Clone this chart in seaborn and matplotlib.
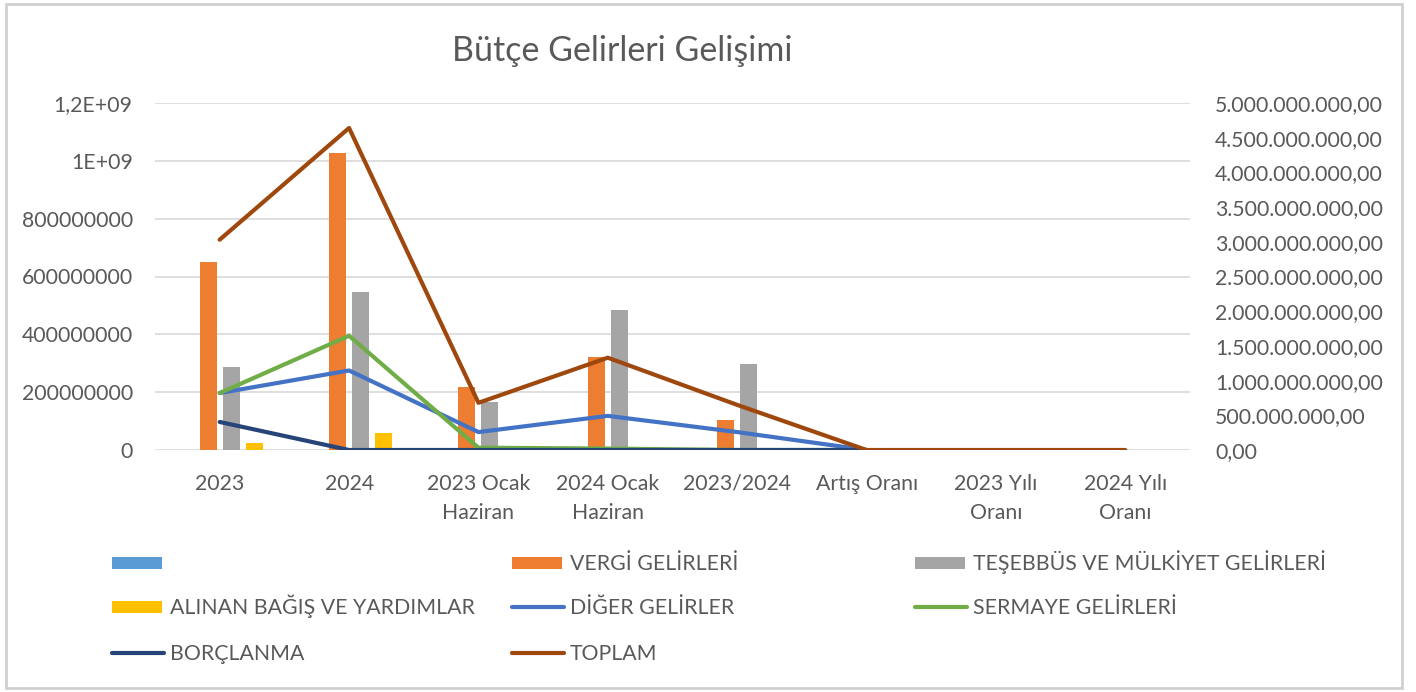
import matplotlib
matplotlib.use("Agg")
import matplotlib.pyplot as plt
import matplotlib.ticker as mticker
from matplotlib.lines import Line2D
from matplotlib.patches import Rectangle
import numpy as np
import pandas as pd
import seaborn as sns

# categories on the x axis
categories = ["2023", "2024", "2023 Ocak\nHaziran", "2024 Ocak\nHaziran",
              "2023/2024", "Artış Oranı", "2023 Yılı\nOranı", "2024 Yılı\nOranı"]

# bar series (left axis)
bos_seri = [0, 0, 0, 0, 0, 0, 0, 0]
vergi = [650e6, 1027e6, 218e6, 322e6, 104e6, 0, 0, 0]
tesebbus = [287e6, 546e6, 166e6, 484e6, 297e6, 0, 0, 0]
bagis = [24e6, 59e6, 0, 0, 0, 0, 0, 0]

# line series (left axis) - end at "Artış Oranı"
diger = [197e6, 275e6, 62e6, 118e6, 62e6, 0]
sermaye = [197e6, 395e6, 8e6, 5e6, 0, 0]
borclanma = [97e6, 0, 0, 0, 0, 0]

# TOPLAM (right axis)
toplam = [3.03e9, 4.64e9, 0.68e9, 1.33e9, 0.65e9, 0, 0, 0]

bar_names = ["", "VERGİ GELİRLERİ", "TEŞEBBÜS VE MÜLKİYET GELİRLERİ",
             "ALINAN BAĞIŞ VE YARDIMLAR"]
bar_colors = ["#5B9BD5", "#ED7D31", "#A5A5A5", "#FFC000"]
c_diger, c_sermaye, c_borc, c_toplam = "#4472C4", "#70AD47", "#264478", "#9E480E"

sns.set_theme(style="white")
plt.rcParams["font.family"] = ["Lato", "DejaVu Sans"]
txt = "#595959"
fs = 15.3
W, H = 1416, 692

bars = pd.DataFrame({"kategori": categories * 4,
                     "seri": np.repeat(bar_names, len(categories)),
                     "deger": bos_seri + vergi + tesebbus + bagis})

fig = plt.figure(figsize=(W / 100, H / 100), dpi=100)
ax = fig.add_axes([155 / W, 1 - 450 / H, 1035 / W, 347 / H])

sns.barplot(data=bars, x="kategori", y="deger", hue="seri", hue_order=bar_names,
            palette=bar_colors, saturation=1, width=0.71, gap=0.26, linewidth=0,
            legend=False, ax=ax)

xs = np.arange(len(categories))
lw = 3.0
sns.lineplot(x=xs[:6], y=diger, color=c_diger, lw=lw, ax=ax)
sns.lineplot(x=xs[:6], y=sermaye, color=c_sermaye, lw=lw, ax=ax)
sns.lineplot(x=xs[:6], y=borclanma, color=c_borc, lw=lw, ax=ax)

ax.set_xlim(-0.5, len(categories) - 0.5)
ax.set_ylim(0, 1.2e9)
ax.set_yticks(np.arange(0, 1.21e9, 2e8))
ax.set_yticklabels(["0", "200000000", "400000000", "600000000", "800000000",
                    "1E+09", "1,2E+09"])
ax.grid(axis="y", color="#D9D9D9", lw=1.2)
ax.set_axisbelow(True)
ax.set_xlabel("")
ax.set_ylabel("")
ax.tick_params(axis="both", length=0, labelsize=fs, colors=txt)
ax.tick_params(axis="y", pad=16)
ax.tick_params(axis="x", pad=17)
for lab in ax.get_xticklabels():
    lab.set_linespacing(1.6)
for s in ax.spines.values():
    s.set_visible(False)

ax2 = ax.twinx()
sns.lineplot(x=xs, y=toplam, color=c_toplam, lw=lw, ax=ax2)
ax2.set_ylim(0, 5e9)
ax2.set_yticks(np.arange(0, 5.01e9, 5e8))
ax2.yaxis.set_major_formatter(mticker.FuncFormatter(
    lambda v, p: f"{v:,.2f}".replace(",", "X").replace(".", ",").replace("X", ".")))
ax2.tick_params(axis="y", length=0, labelsize=fs, colors=txt, pad=18)
ax2.set_ylabel("")
for s in ax2.spines.values():
    s.set_visible(False)
ax.set_xlim(-0.5, len(categories) - 0.5)

fig.text(622 / W, 1 - 51 / H, "Bütçe Gelirleri Gelişimi", ha="center",
         va="center", fontsize=24.5, color=txt)

# legend drawn by hand on a 3x3 grid so rows line up across columns
legend_items = [
    ("bar", bar_colors[0], ""),
    ("bar", bar_colors[1], "VERGİ GELİRLERİ"),
    ("bar", bar_colors[2], "TEŞEBBÜS VE MÜLKİYET GELİRLERİ"),
    ("bar", bar_colors[3], "ALINAN BAĞIŞ VE YARDIMLAR"),
    ("line", c_diger, "DİĞER GELİRLER"),
    ("line", c_sermaye, "SERMAYE GELİRLERİ"),
    ("line", c_borc, "BORÇLANMA"),
    ("line", c_toplam, "TOPLAM"),
]
col_x = [112, 512, 915]
row_y = [563, 607, 653]
for i, (kind, color, lab) in enumerate(legend_items):
    r, c = divmod(i, 3)
    x0, y0 = col_x[c], row_y[r]
    if kind == "bar":
        fig.add_artist(Rectangle((x0 / W, 1 - (y0 + 6) / H), 50 / W, 12 / H,
                                 transform=fig.transFigure, color=color, lw=0))
    else:
        fig.add_artist(Line2D([x0 / W, (x0 + 52) / W], [1 - y0 / H] * 2,
                              transform=fig.transFigure, color=color, lw=lw))
    if lab:
        fig.text((x0 + 58) / W, 1 - (y0 + 7) / H, lab, ha="left",
                 va="baseline", fontsize=fs, color=txt)

fig.add_artist(Rectangle((6 / W, 4 / H), 1396 / W, 684 / H,
                         transform=fig.transFigure, fill=False,
                         edgecolor="#D0D0D0", lw=2))

fig.savefig("out.png", dpi=100)
